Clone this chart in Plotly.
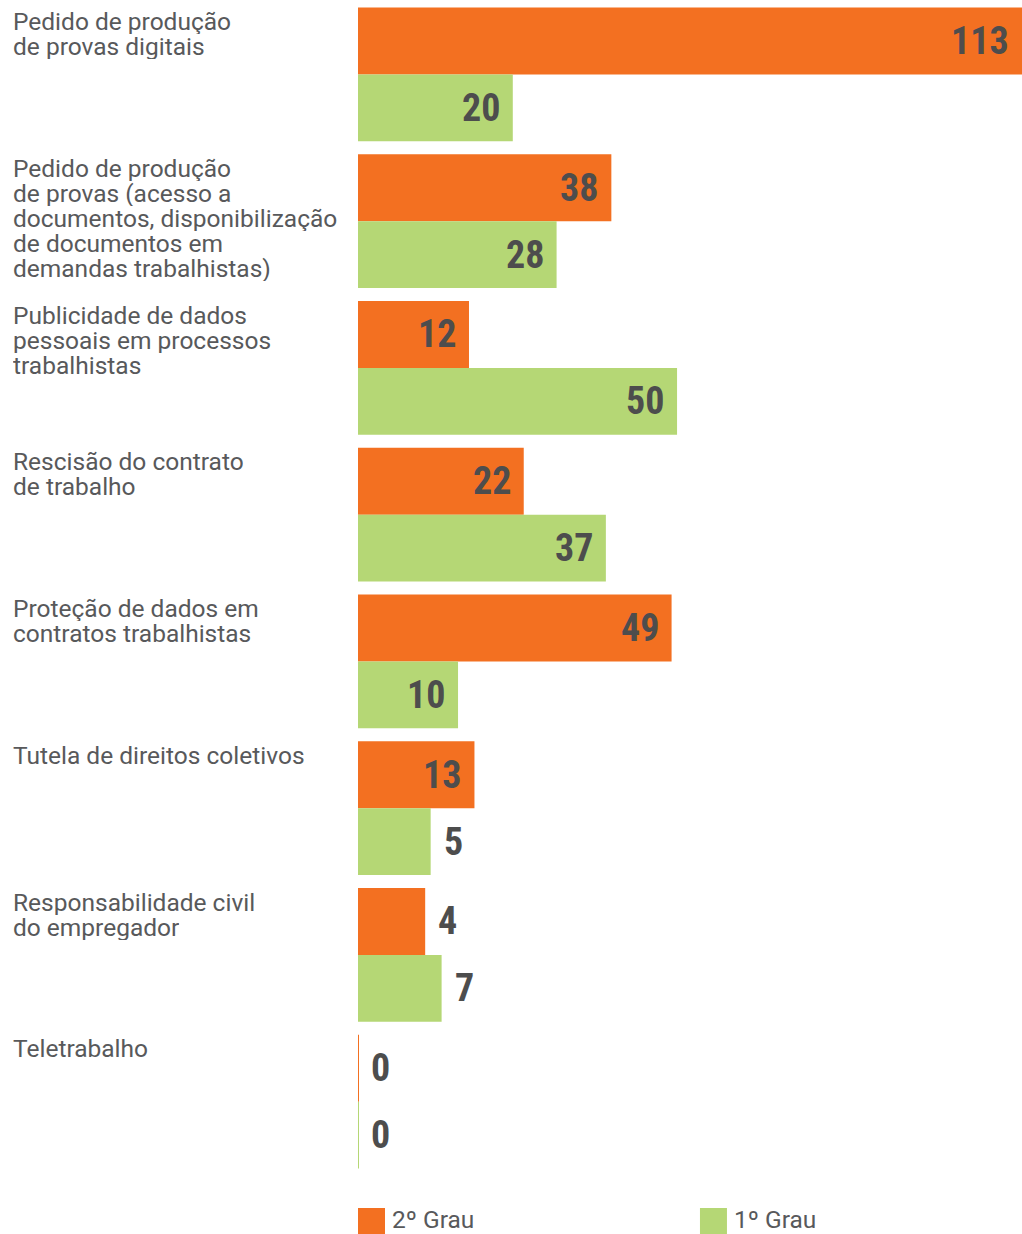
import plotly.graph_objects as go

# ---- data ----
category_lines = [
    ["Pedido de produção", "de provas digitais"],
    ["Pedido de produção", "de provas (acesso a", "documentos, disponibilização",
     "de documentos em", "demandas trabalhistas)"],
    ["Publicidade de dados", "pessoais em processos", "trabalhistas"],
    ["Rescisão do contrato", "de trabalho"],
    ["Proteção de dados em", "contratos trabalhistas"],
    ["Tutela de direitos coletivos"],
    ["Responsabilidade civil", "do empregador"],
    ["Teletrabalho"],
]
grau2 = [113, 38, 12, 22, 49, 13, 4, 0]
grau1 = [20, 28, 50, 37, 10, 5, 7, 0]
series_names = ["2º Grau", "1º Grau"]

# ---- style ----
ORANGE = "#F37021"
GREEN = "#B5D775"
LABEL_COLOR = "#58595B"
NUM_COLOR = "#4D4D4D"
LABEL_FONT = "Roboto, Inter, sans-serif"
NUM_FONT = "Liberation Sans Narrow, Arial Narrow, Roboto Condensed, DejaVu Sans Condensed, sans-serif"
OFFSET = 8.27          # minimum visible bar stub (in value units), as in the original
BARGAP = 0.0886
HALF = (1 - BARGAP) / 2
LINE_PITCH = 25

idx = list(range(len(category_lines)))

fig = go.Figure()
for name, vals, color in [(series_names[0], grau2, ORANGE), (series_names[1], grau1, GREEN)]:
    fig.add_trace(go.Bar(
        y=idx,
        x=[v + OFFSET if v > 0 else 0 for v in vals],
        base=-OFFSET,
        orientation="h",
        name=name,
        marker=dict(color=color,
                    line=dict(color=color, width=[0 if v > 0 else 2 for v in vals])),
        showlegend=False,
        hoverinfo="skip",
    ))

annotations = []
# value labels
for vals, sign in [(grau2, -1), (grau1, 1)]:
    for i, v in enumerate(vals):
        inside = v >= 10
        end = v if v > 0 else -OFFSET
        annotations.append(dict(
            x=end, y=i + sign * HALF / 2, xref="x", yref="y",
            text=str(v), showarrow=False,
            xanchor="right" if inside else "left",
            xshift=-11 if inside else 11,
            yanchor="middle",
            font=dict(family=NUM_FONT, size=38, color=NUM_COLOR, weight="bold"),
        ))

# category labels (one annotation per line for tight leading)
for i, lines in enumerate(category_lines):
    for k, line in enumerate(lines):
        annotations.append(dict(
            x=0, y=i - HALF, xref="paper", yref="y",
            text=line, showarrow=False,
            xanchor="left", yanchor="middle", align="left",
            height=LINE_PITCH,
            xshift=-347, yshift=-(14 + LINE_PITCH * k),
            font=dict(family=LABEL_FONT, size=24.5, color=LABEL_COLOR),
        ))

# manual legend
shapes = []
legend_x = [0.0, 0.515]
for name, color, lx in zip(series_names, [ORANGE, GREEN], legend_x):
    shapes.append(dict(type="rect", xref="paper", yref="paper",
                       x0=lx, x1=lx + 27 / 664, y0=-0.0510, y1=-0.0281,
                       fillcolor=color, line=dict(width=0)))
    annotations.append(dict(x=lx + 32 / 664, y=-0.0375, xref="paper", yref="paper",
                            text=name, showarrow=False, xanchor="left", yanchor="middle",
                            font=dict(family=LABEL_FONT, size=24.5, color=LABEL_COLOR)))

fig.update_layout(
    width=1022, height=1234,
    margin=dict(l=358, r=0, t=1, b=59, pad=0),
    barmode="group", bargap=BARGAP, bargroupgap=0,
    plot_bgcolor="white", paper_bgcolor="white",
    xaxis=dict(range=[-OFFSET, 113], visible=False, fixedrange=True),
    yaxis=dict(range=[7.5, -0.5], visible=False, fixedrange=True),
    annotations=annotations, shapes=shapes,
)

fig.write_html("out.html", config={"displayModeBar": False})
